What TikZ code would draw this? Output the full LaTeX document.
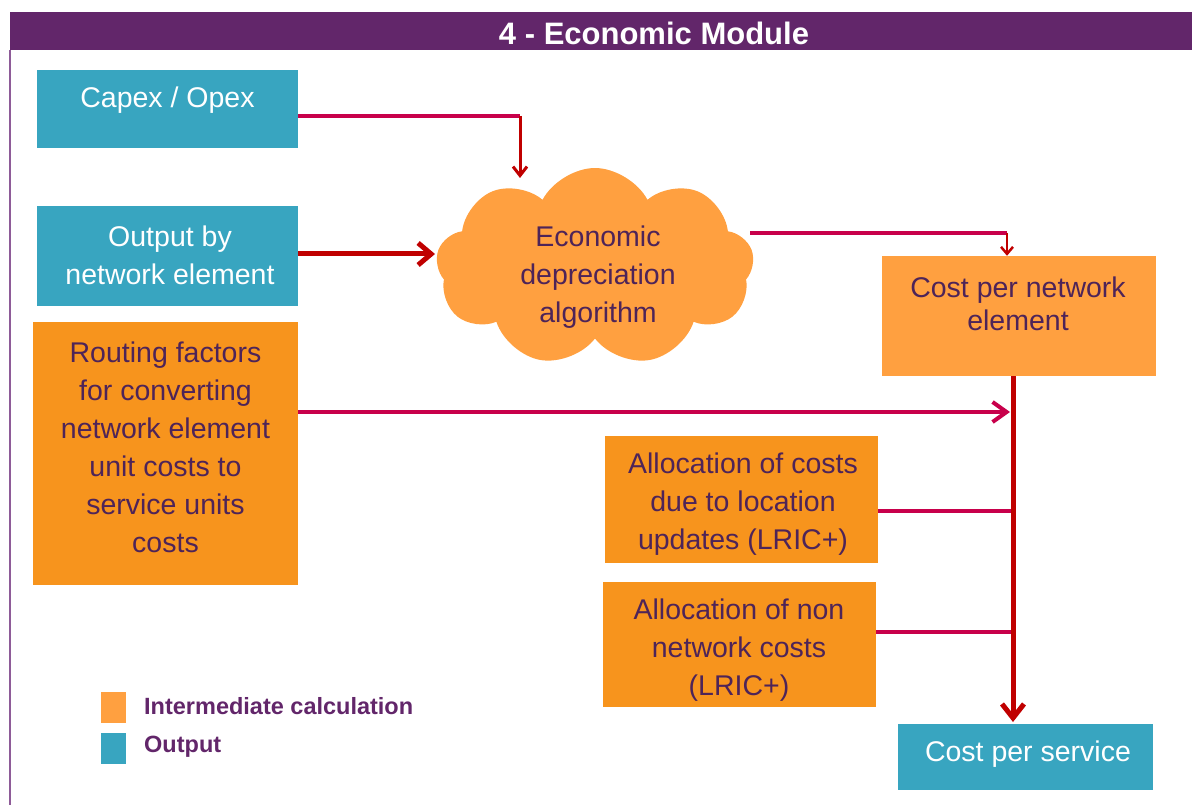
\documentclass[tikz,border=0pt]{standalone}
\usepackage{fontspec}
\setmainfont{Liberation Sans}
\usetikzlibrary{shapes.symbols,arrows.meta}
\definecolor{hdr}{HTML}{62266A}
\definecolor{hdrline}{HTML}{8E5B98}
\definecolor{tealbox}{HTML}{38A5C0}
\definecolor{lorange}{HTML}{FFA040}
\definecolor{dorange}{HTML}{F7941D}
\definecolor{txtc}{HTML}{4E2458}
\definecolor{crim}{HTML}{C8004B}
\definecolor{dred}{HTML}{C00000}
\tikzset{
  box/.style={rectangle, inner sep=0pt, draw=none},
  txt/.style={align=center, text=txtc, font=\fontsize{28.5}{38}\selectfont, inner sep=0pt},
  wtxt/.style={txt, text=white},
  legtxt/.style={anchor=west, text=hdr, font=\fontsize{23.5}{27}\selectfont\bfseries, inner sep=0pt},
  thinln/.style={draw=crim, line width=4pt},
  thickln/.style={draw=dred, line width=5pt},
}
\begin{document}
\begin{tikzpicture}[x=1pt,y=-1pt]
\useasboundingbox (0,0) rectangle (1192,805);
% header and frame
\fill[hdr] (10,12) rectangle (1192,50);
\draw[hdrline, line width=2pt] (10,50) -- (10,805);
\node[text=white, font=\fontsize{31}{36}\selectfont\bfseries, inner sep=0pt] (title) at (654,33) {4 - Economic Module};
% boxes
\node[box, fill=tealbox, minimum width=261pt, minimum height=78pt] (capex) at (167.5,109) {};
\node[wtxt] (capexT) at (167.5,100) {Capex / Opex};
\node[box, fill=tealbox, minimum width=261pt, minimum height=100pt] (output) at (167.5,256) {};
\node[wtxt] (outputT) at (170,255) {Output by\\network element};
\node[box, fill=dorange, minimum width=265pt, minimum height=263pt] (routing) at (165.5,453.5) {};
\node[txt] (routingT) at (165.5,447) {Routing factors\\for converting\\network element\\unit costs to\\service units\\costs};
\node[cloud, cloud puffs=9, cloud puff arc=125, aspect=1.6, fill=lorange, minimum width=318pt, minimum height=198pt, inner sep=0pt] (cloud) at (595,267) {};
\node[txt] (cloudT) at (598,277) {Economic\\depreciation\\algorithm};
\node[box, fill=lorange, minimum width=274pt, minimum height=120pt] (costne) at (1019,316) {};
\node[txt, font=\fontsize{28.5}{33}\selectfont] (costneT) at (1018,304) {Cost per network\\element};
\node[box, fill=dorange, minimum width=273pt, minimum height=127pt] (alloc1) at (741.5,499.5) {};
\node[txt] (alloc1T) at (743,504) {Allocation of costs\\due to location\\updates (LRIC+)};
\node[box, fill=dorange, minimum width=273pt, minimum height=125pt] (alloc2) at (739.5,644.5) {};
\node[txt] (alloc2T) at (739,650) {Allocation of non\\network costs\\(LRIC+)};
\node[box, fill=tealbox, minimum width=255pt, minimum height=66pt] (service) at (1025.5,757) {};
\node[wtxt] (serviceT) at (1028,754) {Cost per service};
% legend
\node[box, fill=lorange, minimum width=25pt, minimum height=31pt] (legO) at (113.5,707.5) {};
\node[box, fill=tealbox, minimum width=25pt, minimum height=31pt] (legT) at (113.5,748.5) {};
\node[legtxt] (legOT) at (144,706) {Intermediate calculation};
\node[legtxt] (legTT) at (144,747) {Output};
% connector coordinates
\coordinate (cap1) at (520,116);
\coordinate (cap2) at (520,178);
\coordinate (outend) at (435,254);
\coordinate (cl1) at (750,233);
\coordinate (cl2) at (1007,233);
\coordinate (bustop) at (1013,376);
\coordinate (busbot) at (1013,722);
\coordinate (routend) at (1010,412);
\coordinate (a1end) at (1011,511);
\coordinate (a2end) at (1011,632);
% connectors
\draw[thinln] (capex.east |- cap1) -- (cap1);
\draw[dred, line width=3pt, -{Straight Barb[length=9pt,width=14pt]}] (cap1) -- (cap2);
\draw[thickln, -{Straight Barb[length=13pt,width=22pt]}] (output.east |- outend) -- (outend);
\draw[thinln] (cl1) -- (cl2);
\draw[dred, line width=2.5pt, -{Straight Barb[length=7pt,width=12pt]}] (cl2) -- (cl2 |- costne.north);
\draw[thickln, -{Straight Barb[length=14pt,width=22pt]}] (costne.south -| bustop) -- (busbot);
\draw[thinln, -{Straight Barb[length=14pt,width=20pt]}] (routing.east |- routend) -- (routend);
\draw[thinln] (alloc1.east |- a1end) -- (a1end);
\draw[thinln] (alloc2.east |- a2end) -- (a2end);
\end{tikzpicture}
\end{document}
